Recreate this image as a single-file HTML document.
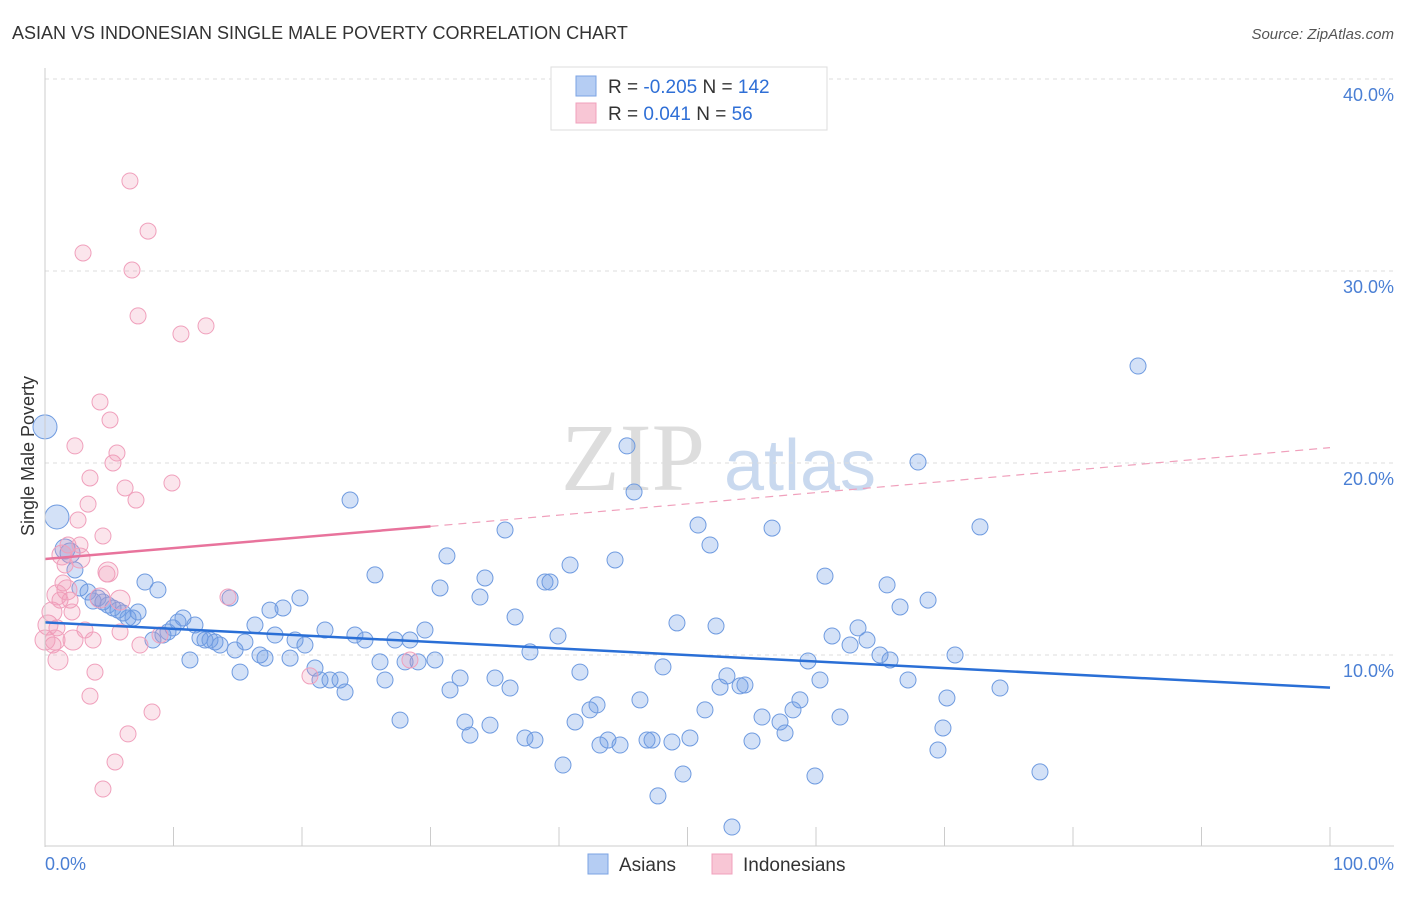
<!DOCTYPE html>
<html><head><meta charset="utf-8"><style>
body{margin:0;background:#fff;font-family:"Liberation Sans",sans-serif;}
</style></head><body>
<svg width="1406" height="892" xmlns="http://www.w3.org/2000/svg" id="svg">
<text x="12" y="39" font-size="18" fill="#333">ASIAN VS INDONESIAN SINGLE MALE POVERTY CORRELATION CHART</text>
<text x="1394" y="39" font-size="15" fill="#555" font-style="italic" text-anchor="end">Source: ZipAtlas.com</text>
<text x="633" y="490" font-size="96" fill="#ddd" font-family="Liberation Serif,serif" text-anchor="middle">ZIP</text>
<text x="800" y="490" font-size="72" fill="#c9d9ef" text-anchor="middle">atlas</text>
<g id="grid"></g><g id="pts"></g><g id="lines"></g>
<line x1="45" y1="68" x2="45" y2="847" stroke="#ccc"/>
<line x1="45" y1="846" x2="1394" y2="846" stroke="#ccc"/>
<text transform="translate(34,456) rotate(-90)" font-size="18" fill="#333" text-anchor="middle">Single Male Poverty</text>
<text x="45" y="870" font-size="18" fill="#4a7fd4">0.0%</text>
<text x="1394" y="870" font-size="18" fill="#4a7fd4" text-anchor="end">100.0%</text>
<g>
<rect x="551" y="67" width="276" height="63" fill="#fff" stroke="#ddd"/>
<rect x="576" y="76" width="20" height="20" fill="#b5cdf3" stroke="#7ba3e3"/>
<rect x="576" y="103" width="20" height="20" fill="#f8c6d5" stroke="#f0a0bc"/>
<text x="608" y="93" font-size="19" fill="#333">R = <tspan fill="#2f6fd6">-0.205</tspan>   N = <tspan fill="#2f6fd6">142</tspan></text>
<text x="608" y="120" font-size="19" fill="#333">R =   <tspan fill="#2f6fd6">0.041</tspan>   N =   <tspan fill="#2f6fd6">56</tspan></text>
</g>
<g>
<rect x="588" y="854" width="20" height="20" fill="#b5cdf3" stroke="#7ba3e3"/>
<text x="619" y="871" font-size="19" fill="#333">Asians</text>
<rect x="712" y="854" width="20" height="20" fill="#f8c6d5" stroke="#f0a0bc"/>
<text x="743" y="871" font-size="19" fill="#333">Indonesians</text>
</g>
</svg>
<script>
const yTicks=[10,20,30,40];
const yTickLabels=["10.0%","20.0%","30.0%","40.0%"];
const xTicks=[0,10,20,30,40,50,60,70,80,90,100];
const asianPx=[[45,427],[57,517],[65,549],[70,553],[75,570],[80,588],[88,592],[93,601],[98,598],[103,602],[108,605],[113,608],[118,610],[123,613],[128,618],[133,618],[138,612],[145,582],[153,640],[158,590],[163,635],[168,632],[173,628],[178,622],[183,618],[190,660],[195,625],[200,638],[205,640],[210,640],[215,642],[220,645],[230,598],[235,650],[240,672],[245,642],[255,625],[260,655],[265,658],[270,610],[275,635],[283,608],[290,658],[295,640],[300,598],[305,645],[315,668],[320,680],[325,630],[330,680],[340,680],[345,692],[350,500],[355,635],[365,640],[375,575],[380,662],[385,680],[395,640],[400,720],[405,662],[410,640],[418,662],[425,630],[435,660],[440,588],[447,556],[450,690],[460,678],[465,722],[470,735],[480,597],[485,578],[490,725],[495,678],[505,530],[510,688],[515,617],[525,738],[530,652],[535,740],[545,582],[550,582],[558,636],[563,765],[570,565],[575,722],[580,672],[590,710],[597,705],[600,745],[608,740],[615,560],[620,745],[627,446],[634,492],[640,700],[647,740],[652,740],[658,796],[663,667],[672,742],[677,623],[683,774],[690,738],[698,525],[705,710],[710,545],[716,626],[720,687],[727,676],[732,827],[740,686],[745,685],[752,741],[762,717],[772,528],[780,722],[785,733],[793,710],[800,700],[808,661],[815,776],[820,680],[825,576],[832,636],[840,717],[850,645],[858,628],[867,640],[880,655],[887,585],[890,660],[900,607],[908,680],[918,462],[928,600],[938,750],[943,728],[947,698],[955,655],[980,527],[1000,688],[1040,772],[1138,366]];
const indoPx=[[53,645],[57,628],[60,600],[63,583],[65,565],[68,545],[70,600],[72,612],[75,446],[78,520],[80,545],[83,253],[85,630],[88,504],[90,478],[93,640],[95,672],[90,696],[100,402],[103,536],[107,574],[110,420],[113,463],[117,453],[120,632],[125,488],[128,734],[130,181],[132,270],[136,500],[138,316],[140,645],[148,231],[152,712],[160,635],[172,483],[181,334],[206,326],[228,597],[310,676],[410,660],[115,762],[103,789],[55,640],[58,660],[67,590],[73,640],[48,625],[52,612],[62,555],[108,572],[120,600],[80,558],[100,598],[57,595],[45,640]];
// convert read pixel positions into data values (percent)
const asianX=asianPx.map(p=>+((p[0]-45)/12.85).toFixed(2));
const asianY=asianPx.map(p=>+((847-p[1])/19.2).toFixed(2));
const indoX=indoPx.map(p=>+((p[0]-45)/12.85).toFixed(2));
const indoY=indoPx.map(p=>+((847-p[1])/19.2).toFixed(2));
const asianTrend=[11.7,8.3];
const indoTrend=[15.0,16.7,20.8];
const X=v=>45+v*12.85, Y=v=>847-v*19.2;
const ns="http://www.w3.org/2000/svg";
function mk(t,a,p){const e=document.createElementNS(ns,t);for(const k in a)e.setAttribute(k,a[k]);p.appendChild(e);return e;}
const grid=document.getElementById('grid');
yTicks.forEach((t,i)=>{
 const l=mk('line',{x1:45,x2:1394,y1:Y(t),y2:Y(t),stroke:'#ddd','stroke-dasharray':'4,4'},grid);
 
 
 const tx=mk('text',{x:1394,y:Y(t)+22,'font-size':18,fill:'#4a7fd4','text-anchor':'end'},grid);
 tx.textContent=yTickLabels[i];
 
 
});
xTicks.forEach(t=>{
 const l=mk('line',{x1:X(t),x2:X(t),y1:827,y2:846,stroke:'#ccc'},grid);
 
 
});
const pts=document.getElementById('pts');
asianX.forEach((x,i)=>{
 const r=i<2?12:(i<4?10:8);
 const c=mk('circle',{cx:X(x),cy:Y(asianY[i]),r:r,fill:'rgba(110,155,230,0.3)',stroke:'#6f9be0','stroke-width':1},pts);
 
 
});
indoX.forEach((x,i)=>{
 const c=mk('circle',{cx:X(x),cy:Y(indoY[i]),r:i>=43?10:8,fill:'rgba(240,150,180,0.25)',stroke:'#f0a0bc','stroke-width':1},pts);
 
 
});
const lines=document.getElementById('lines');
let a=mk('line',{x1:X(0),y1:Y(asianTrend[0]),x2:X(100),y2:Y(asianTrend[1]),stroke:'#2a6fd6','stroke-width':2.5},lines);


let b=mk('line',{x1:X(0),y1:Y(indoTrend[0]),x2:X(30),y2:Y(indoTrend[1]),stroke:'#e8739c','stroke-width':2.5},lines);


let c=mk('line',{x1:X(30),y1:Y(indoTrend[1]),x2:X(100),y2:Y(indoTrend[2]),stroke:'#f0a0bc','stroke-width':1.2,'stroke-dasharray':'8,6'},lines);


</script>
</body></html>
